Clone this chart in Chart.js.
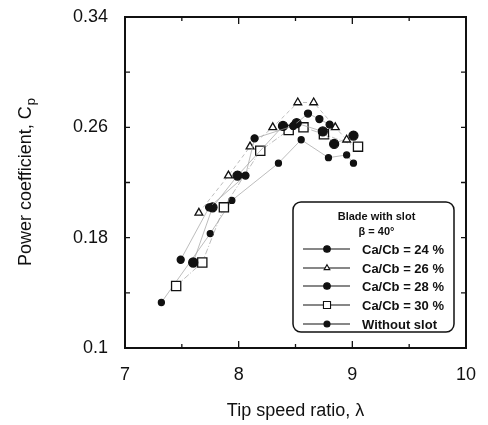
<!DOCTYPE html>
<html>
<head>
<meta charset="utf-8">
<script src="https://cdn.jsdelivr.net/npm/chart.js@4"></script>
<style>
  html, body { margin: 0; padding: 0; background: #fff; }
  #wrap { width: 488px; height: 425px; }
</style>
</head>
<body>
<div id="wrap"><canvas id="cp" width="488" height="425"></canvas></div>
<script>
// Cp vs tip speed ratio, blade with slot (beta = 40 deg).
const LABELS = ['Ca/Cb = 24 %', 'Ca/Cb = 26 %', 'Ca/Cb = 28 %', 'Ca/Cb = 30 %', 'Without slot'];

const x24 = [7.49, 7.74, 8.06, 8.14, 8.48, 8.61, 8.71, 8.80];
const y24 = [0.164, 0.202, 0.225, 0.252, 0.261, 0.270, 0.266, 0.262];

const x26 = [7.65, 7.91, 8.10, 8.30, 8.52, 8.66, 8.85, 8.95];
const y26 = [0.198, 0.225, 0.246, 0.260, 0.278, 0.278, 0.260, 0.251];

const x28 = [7.60, 7.77, 7.99, 8.39, 8.51, 8.74, 8.84, 9.01];
const y28 = [0.162, 0.202, 0.225, 0.261, 0.263, 0.257, 0.248, 0.254];

const x30 = [7.45, 7.68, 7.87, 8.19, 8.44, 8.57, 8.75, 9.05];
const y30 = [0.145, 0.162, 0.202, 0.243, 0.258, 0.260, 0.255, 0.246];

const xNo = [7.32, 7.75, 7.94, 8.35, 8.55, 8.79, 8.95, 9.01];
const yNo = [0.133, 0.183, 0.207, 0.234, 0.251, 0.238, 0.240, 0.234];

const X_MIN = 7, X_MAX = 10, X_STEP = 0.5;
const Y_MIN = 0.1, Y_MAX = 0.34, Y_STEP = 0.04;
const X_LABELLED = [7, 8, 9, 10];
const Y_LABELLED = [0.1, 0.18, 0.26, 0.34];

const FONT = '"Liberation Sans", Arial, sans-serif';
const INK = '#111';
const LINE = '#a0a0a0'; // the connecting lines barely survive in the scan

const pts = (xs, ys) => xs.map((x, i) => ({ x, y: ys[i] }));
const near = (v, list) => list.some(t => Math.abs(v - t) < 1e-6);

const SERIES = [
  { data: pts(x24, y24), pointStyle: 'circle', radius: 3.5, bg: INK, dash: [] },
  { data: pts(x26, y26), pointStyle: 'triangle', radius: 4.5, bg: '#fff', dash: [4, 3] },
  { data: pts(x28, y28), pointStyle: 'circle', radius: 4.5, bg: INK, dash: [] },
  { data: pts(x30, y30), pointStyle: 'rect', radius: 6.5, bg: '#fff', dash: [6, 2, 1, 2] },
  { data: pts(xNo, yNo), pointStyle: 'circle', radius: 3, bg: INK, dash: [] },
];

const datasets = SERIES.map((s, i) => ({
  label: LABELS[i],
  data: s.data,
  showLine: true,
  borderColor: LINE,
  borderWidth: 0.7,
  borderDash: s.dash,
  pointStyle: s.pointStyle,
  pointRadius: s.radius,
  pointBackgroundColor: s.bg,
  pointBorderColor: INK,
  pointBorderWidth: 1.3,
  tension: 0,
}));

// frame + inward ticks on all four sides, axis titles, boxed legend
const framePlugin = {
  id: 'frame',
  afterDraw(chart) {
    const { ctx, chartArea: a, scales } = chart;
    ctx.save();
    ctx.strokeStyle = INK;
    ctx.lineWidth = 2;
    ctx.strokeRect(a.left, a.top, a.right - a.left, a.bottom - a.top);

    ctx.lineWidth = 1.3;
    scales.x.ticks.forEach(t => {
      const px = scales.x.getPixelForValue(t.value);
      const len = near(t.value, X_LABELLED) ? 7 : 4;
      ctx.beginPath();
      ctx.moveTo(px, a.bottom); ctx.lineTo(px, a.bottom - len);
      ctx.moveTo(px, a.top); ctx.lineTo(px, a.top + len);
      ctx.stroke();
    });
    scales.y.ticks.forEach(t => {
      const py = scales.y.getPixelForValue(t.value);
      const len = 5;
      ctx.beginPath();
      ctx.moveTo(a.left, py); ctx.lineTo(a.left + len, py);
      ctx.moveTo(a.right, py); ctx.lineTo(a.right - len, py);
      ctx.stroke();
    });

    // axis titles
    ctx.fillStyle = INK;
    ctx.font = '18px ' + FONT;
    ctx.textAlign = 'center';
    ctx.textBaseline = 'alphabetic';
    ctx.fillText('Tip speed ratio, λ', (a.left + a.right) / 2, 416);

    ctx.save();
    ctx.translate(31, (a.top + a.bottom) / 2);
    ctx.rotate(-Math.PI / 2);
    const main = 'Power coefficient, C';
    const wMain = ctx.measureText(main).width;
    ctx.font = '13px ' + FONT;
    const wSub = ctx.measureText('p').width;
    const start = -(wMain + wSub) / 2;
    ctx.textAlign = 'left';
    ctx.font = '18px ' + FONT;
    ctx.fillText(main, start, 0);
    ctx.font = '13px ' + FONT;
    ctx.fillText('p', start + wMain + 1, 4);
    ctx.restore();

    // legend box
    const L = 293, T = 202, R = 454, B = 332;
    ctx.lineWidth = 1.5;
    ctx.beginPath();
    ctx.roundRect(L, T, R - L, B - T, 8);
    ctx.fillStyle = '#fff';
    ctx.fill();
    ctx.stroke();

    ctx.fillStyle = INK;
    ctx.textAlign = 'center';
    ctx.textBaseline = 'middle';
    ctx.font = 'bold 11px ' + FONT;
    ctx.fillText('Blade with slot', (L + R) / 2 + 3, 217);
    ctx.fillText('β = 40°', (L + R) / 2 + 3, 232);

    const rowY = [249, 268, 286, 305, 324];
    chart.data.datasets.forEach((ds, i) => {
      const y = rowY[i];
      ctx.save();
      ctx.strokeStyle = INK;
      ctx.lineWidth = 1.2;
      ctx.beginPath();
      ctx.moveTo(303, y); ctx.lineTo(350, y);
      ctx.stroke();
      ctx.fillStyle = ds.pointBackgroundColor;
      ctx.strokeStyle = INK;
      ctx.lineWidth = 1.1;
      Chart.helpers.drawPoint(ctx, {
        pointStyle: ds.pointStyle,
        radius: Math.min(ds.pointRadius, ds.pointStyle === 'rect' ? 5 : 3.3),
        borderWidth: 1.1,
        rotation: 0,
      }, 327, y);
      ctx.restore();
      ctx.fillStyle = INK;
      ctx.textAlign = 'left';
      ctx.font = 'bold 13px ' + FONT;
      ctx.fillText(ds.label, 362, y + 1);
    });
    ctx.restore();
  },
};

new Chart(document.getElementById('cp'), {
  type: 'scatter',
  data: { datasets },
  options: {
    responsive: false,
    animation: false,
    devicePixelRatio: 1,
    layout: { padding: { top: 17, right: 22, left: 0, bottom: 0 } },
    plugins: { legend: { display: false }, tooltip: { enabled: false } },
    scales: {
      x: {
        type: 'linear',
        min: X_MIN, max: X_MAX,
        afterFit: s => { s.height = 77; s.paddingLeft = 0; s.paddingRight = 0; },
        grid: { display: false, drawTicks: false },
        border: { display: false },
        ticks: {
          stepSize: X_STEP,
          padding: 16,
          color: INK,
          font: { family: FONT, size: 18 },
          autoSkip: false,
          maxRotation: 0,
          callback: v => (near(v, X_LABELLED) ? String(v) : ''),
        },
      },
      y: {
        min: Y_MIN, max: Y_MAX,
        afterFit: s => { s.width = 125; s.paddingTop = 0; s.paddingBottom = 0; },
        grid: { display: false, drawTicks: false },
        border: { display: false },
        ticks: {
          stepSize: Y_STEP,
          padding: 17,
          color: INK,
          font: { family: FONT, size: 18 },
          autoSkip: false,
          callback: v => (near(v, Y_LABELLED) ? String(Math.round(v * 100) / 100) : ''),
        },
      },
    },
  },
  plugins: [framePlugin],
});
</script>
</body>
</html>
